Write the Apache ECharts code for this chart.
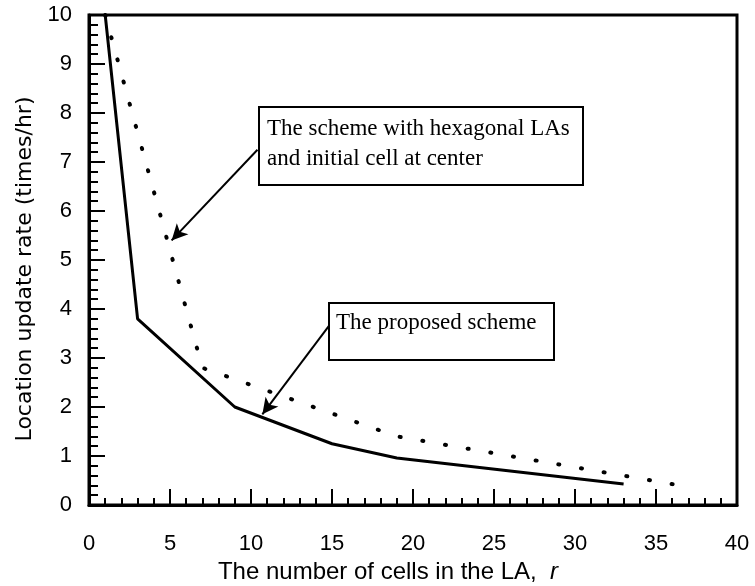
<!DOCTYPE html>
<html>
<head>
<meta charset="utf-8">
<script src="https://cdn.jsdelivr.net/npm/echarts@6/dist/echarts.min.js"></script>
<style>
  html, body { margin: 0; padding: 0; background: #fff; }
  #chart { width: 755px; height: 586px; }
</style>
</head>
<body>
<div id="chart"></div>
<script>
// number of cells r and update rate for each scheme
var rProposed = [1, 3, 9, 15, 19, 33];
var rateProposed = [10, 3.8, 2.0, 1.25, 0.96, 0.43];
var rHexagonal = [1, 7, 19, 37];
var rateHexagonal = [10, 2.8, 1.4, 0.37];

// arrows of the two notes, in data units: [from, to]
var arrowHex = [[10.4, 7.25], [5.1, 5.4]];
var arrowProp = [[14.8, 3.65], [10.7, 1.85]];

function pairs(xs, ys) {
    return xs.map(function (x, i) { return [x, ys[i]]; });
}

var myChart = echarts.init(document.getElementById('chart'));
var axisFont = 'Liberation Sans';
var noteFont = 'Liberation Serif';

option = {
    backgroundColor: '#fff',
    animation: false,
    grid: {
        left: 89, right: 18, top: 15, bottom: 81,
        outerBoundsMode: 'none',
        show: true,
        borderColor: '#000',
        borderWidth: 3
    },
    xAxis: {
        type: 'value',
        min: 0, max: 40, interval: 5,
        name: 'The number of cells in the LA,  {i|r}',
        nameLocation: 'middle',
        nameGap: 53,
        nameTextStyle: {
            color: '#000', fontSize: 24, fontFamily: axisFont,
            padding: [0, 50, 0, 0],
            rich: { i: { fontStyle: 'italic', fontSize: 24, fontFamily: axisFont } }
        },
        axisLine: { lineStyle: { color: '#000', width: 3 } },
        axisTick: { inside: true, length: 16, lineStyle: { color: '#000', width: 2 } },
        minorTick: { show: true, splitNumber: 5, length: 7, lineStyle: { color: '#000', width: 2 } },
        axisLabel: { color: '#000', fontSize: 22, fontFamily: axisFont, margin: 28 },
        splitLine: { show: false }
    },
    yAxis: {
        type: 'value',
        min: 0, max: 10, interval: 1,
        name: 'Location update rate (times/hr)',
        nameLocation: 'middle',
        nameGap: 53,
        nameTextStyle: { color: '#000', fontSize: 22, fontFamily: 'DejaVu Sans', padding: [0, 18, 0, 0] },
        axisLine: { lineStyle: { color: '#000', width: 3 } },
        axisTick: { inside: true, length: 16, lineStyle: { color: '#000', width: 2 } },
        minorTick: { show: true, splitNumber: 5, length: 9, lineStyle: { color: '#000', width: 2 } },
        axisLabel: { color: '#000', fontSize: 22, fontFamily: axisFont, margin: 17 },
        splitLine: { show: false }
    },
    series: [{
        name: 'The proposed scheme',
        type: 'line',
        data: pairs(rProposed, rateProposed),
        symbol: 'none',
        lineStyle: { color: '#000', width: 3, type: 'solid' },
        markLine: {
            silent: true,
            symbol: ['none', 'arrow'],
            symbolSize: [12, 16],
            label: { show: false },
            lineStyle: { color: '#000', width: 2, type: 'solid' },
            data: [
                [{ coord: arrowHex[0] }, { coord: arrowHex[1] }],
                [{ coord: arrowProp[0] }, { coord: arrowProp[1] }]
            ]
        }
    }, {
        name: 'The scheme with hexagonal LAs and initial cell at center',
        type: 'line',
        data: pairs(rHexagonal, rateHexagonal),
        symbol: 'none',
        lineStyle: { color: '#000', width: 4, type: [1, 22], cap: 'round' }
    }],
    graphic: [{
        type: 'group',
        left: 258, top: 106,
        children: [{
            type: 'rect',
            shape: { x: 0, y: 0, width: 324, height: 78 },
            style: { fill: '#fff', stroke: '#000', lineWidth: 2 }
        }, {
            type: 'text',
            left: 8, top: 7,
            style: {
                text: 'The scheme with hexagonal LAs\nand initial cell at center',
                fill: '#000', font: '23px ' + noteFont, lineHeight: 30
            }
        }]
    }, {
        type: 'group',
        left: 328, top: 302,
        children: [{
            type: 'rect',
            shape: { x: 0, y: 0, width: 225, height: 57 },
            style: { fill: '#fff', stroke: '#000', lineWidth: 2 }
        }, {
            type: 'text',
            left: 7, top: 5,
            style: { text: 'The proposed scheme', fill: '#000', font: '23px ' + noteFont, lineHeight: 30 }
        }]
    }]
};
myChart.setOption(option);
</script>
</body>
</html>
